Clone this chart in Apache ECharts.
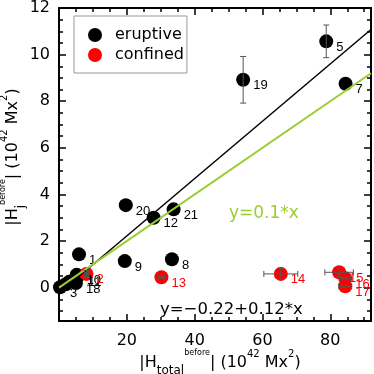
<!DOCTYPE html>
<html>
<head>
<meta charset="utf-8">
<script src="https://cdn.jsdelivr.net/npm/echarts@6/dist/echarts.min.js"></script>
<style>html,body{margin:0;padding:0;background:#fff;}#c{width:374px;height:374px;}</style>
</head>
<body>
<div id="c"></div>
<script>
// ---- data ----
const eruptiveIds = ['1','3','4','5','6','7','8','9','10','11','12','18','19','20','21'];
const eruptiveX   = [5.9, 0.3, 2.0, 78.8, 3.0, 84.5, 33.3, 19.4, 5.2, 5.6, 27.9, 5.0, 54.3, 19.7, 33.8];
const eruptiveY   = [1.43, 0.02, 0.15, 10.57, 0.25, 8.75, 1.22, 1.14, 0.55, 0.50, 3.0, 0.20, 8.92, 3.54, 3.36];
const eruptiveXErr = [0,0,0,0,0,0,0,0,0,0,0,0,0,0,0];
const eruptiveYErr = [0,0,0,0.7,0,0,0,0,0,0,0,0,1.0,0,0];
const hiddenLabels = ['4','6'];

const confinedIds = ['2','13','14','15','16','17'];
const confinedX   = [8.1, 30.2, 65.4, 82.6, 84.4, 84.4];
const confinedY   = [0.59, 0.45, 0.59, 0.66, 0.40, 0.06];
const confinedXErr = [0.6, 1.0, 5.0, 4.2, 1.5, 1.9];
const confinedYErr = [0.15, 0.05, 0.25, 0.2, 0.03, 0.03];

const fitIntercept = -0.24, fitSlope = 0.123;   // drawn fit
const refSlope = 0.1;                           // y = 0.1*x
const fitText = 'y=\u22120.22+0.12*x';
const refText = 'y=0.1*x';

const xMin = 0, xMax = 92, xInterval = 20;
const yMin = -1.43, yMax = 12;
const yMajor = [0, 2, 4, 6, 8, 10, 12];
const yMinor = [-1, -0.5, 0.5, 1, 1.5, 2.5, 3, 3.5, 4.5, 5, 5.5, 6.5, 7, 7.5, 8.5, 9, 9.5, 10.5, 11, 11.5];
const legendNames = ['eruptive', 'confined'];

// ---- build ----
const FONT = 'DejaVu Sans';
const eruptData = eruptiveIds.map((id, i) => ({
  name: id, value: [eruptiveX[i], eruptiveY[i]],
  label: hiddenLabels.includes(id) ? {show: false} : undefined
}));
const confData = confinedIds.map((id, i) => ({name: id, value: [confinedX[i], confinedY[i]]}));
const errData = [];
eruptiveIds.forEach((id, i) => { if (eruptiveXErr[i] || eruptiveYErr[i]) errData.push([eruptiveX[i], eruptiveY[i], eruptiveXErr[i], eruptiveYErr[i]]); });
confinedIds.forEach((id, i) => errData.push([confinedX[i], confinedY[i], confinedXErr[i], confinedYErr[i]]));

const fitLine = [[xMin, fitIntercept + fitSlope * xMin], [xMax, fitIntercept + fitSlope * xMax]];
const refLine = [[xMin, refSlope * xMin], [xMax, refSlope * xMax]];

const tickStyle = {color: '#000', width: 1.5};
const axisLine = {show: true, onZero: false, lineStyle: {color: '#000', width: 2}};
const labelFont = {fontSize: 16, fontFamily: FONT, color: '#000'};

function xAx(pos, showLabel) {
  return {
    type: 'value', min: xMin, max: xMax, interval: xInterval, position: pos,
    axisLine: axisLine, splitLine: {show: false},
    axisTick: {show: true, inside: true, length: 7, lineStyle: tickStyle},
    minorTick: {show: true, splitNumber: 4, length: 4, lineStyle: tickStyle},
    axisLabel: Object.assign({show: showLabel, margin: 12,
      formatter: v => (v > 0 && v % xInterval === 0) ? String(v) : ''}, labelFont)
  };
}
function yAx(pos, vals, len, showLabel, showLine) {
  return {
    type: 'value', min: yMin, max: yMax, position: pos,
    axisLine: Object.assign({}, axisLine, {show: showLine}), splitLine: {show: false},
    axisTick: {show: true, inside: true, length: len, customValues: vals, lineStyle: tickStyle},
    axisLabel: Object.assign({show: showLabel, margin: 9, customValues: vals}, labelFont)
  };
}

const rich = {
  m: {fontSize: 16, fontFamily: FONT, lineHeight: 28, verticalAlign: 'middle', fill: '#000', color: '#000'},
  sub: {fontSize: 12, fontFamily: FONT, lineHeight: 20, verticalAlign: 'bottom', fill: '#000', color: '#000'},
  sb: {fontSize: 8, fontFamily: FONT, lineHeight: 16, verticalAlign: 'top', fill: '#000', color: '#000'},
  sp: {fontSize: 10, fontFamily: FONT, lineHeight: 14, verticalAlign: 'top', fill: '#000', color: '#000'}
};

const chart = echarts.init(document.getElementById('c'), null, {renderer: 'canvas'});
chart.setOption({
  animation: false,
  backgroundColor: '#fff',
  grid: {left: 59, right: 3, top: 2, bottom: 53},
  legend: {
    data: legendNames, left: 74, top: 16, orient: 'vertical', icon: 'circle',
    itemWidth: 14, itemHeight: 14, itemGap: 4, padding: [11, 3, 10, 14],
    borderColor: '#999', borderWidth: 1, backgroundColor: '#fff',
    textStyle: {fontSize: 16, fontFamily: FONT, color: '#000', lineHeight: 14, padding: [0, 0, 0, 8]}
  },
  xAxis: [xAx('bottom', true), xAx('top', false)],
  yAxis: [
    yAx('left', yMajor, 7, true, true),
    yAx('left', yMinor, 4, false, false),
    yAx('right', yMajor, 7, false, true),
    yAx('right', yMinor, 4, false, false)
  ],
  graphic: [
    {type: 'text', x: 220, y: 363, z: 10, style: {
      text: '{m||H}{sub|total}{sb|before}{m|| (10}{sp|42}{m| Mx}{sp|2}{m|)}',
      rich: rich, align: 'center', verticalAlign: 'middle'}},
    {type: 'text', x: 13, y: 157, rotation: Math.PI / 2, z: 10, style: {
      text: '{m||H}{sub|j}{sb|before}{m|| (10}{sp|42}{m| Mx}{sp|2}{m|)}',
      rich: rich, align: 'center', verticalAlign: 'middle'}},
    {type: 'text', x: 229, y: 214, z: 10, style: {text: refText, fontSize: 17, fontFamily: FONT,
      fill: '#9ACD32', align: 'left', verticalAlign: 'middle'}},
    {type: 'text', x: 160, y: 310, z: 10, style: {text: fitText, fontSize: 16.5, fontFamily: FONT,
      fill: '#000', align: 'left', verticalAlign: 'middle'}}
  ],
  series: [
    {type: 'scatter', name: 'eruptive', data: eruptData, symbol: 'circle', symbolSize: 14, z: 2,
      itemStyle: {color: '#000', opacity: 1},
      label: {show: true, formatter: p => p.name, position: 'right', distance: 3, offset: [0, 6],
        fontSize: 13, fontFamily: 'Liberation Sans', color: '#000'}},
    {type: 'scatter', name: 'confined', data: confData, symbol: 'circle', symbolSize: 14, z: 2,
      itemStyle: {color: '#ff0000', opacity: 1},
      label: {show: true, formatter: p => p.name, position: 'right', distance: 3, offset: [0, 6],
        fontSize: 13, fontFamily: 'Liberation Sans', color: '#ff0000'}},
    {type: 'line', data: fitLine, symbol: 'none', z: 3, silent: true,
      lineStyle: {color: '#000', width: 1.5}},
    {type: 'line', data: refLine, symbol: 'none', z: 3, silent: true,
      lineStyle: {color: '#9ACD32', width: 2}},
    {type: 'custom', data: errData, z: 4, silent: true,
      renderItem: function (params, api) {
        const x = api.value(0), y = api.value(1), xe = api.value(2), ye = api.value(3);
        const cap = 3;
        const st = {stroke: '#555', lineWidth: 1};
        const ch = [];
        if (ye > 0) {
          const a = api.coord([x, y - ye]), b = api.coord([x, y + ye]);
          ch.push({type: 'line', shape: {x1: a[0], y1: a[1], x2: b[0], y2: b[1]}, style: st});
          ch.push({type: 'line', shape: {x1: a[0] - cap, y1: a[1], x2: a[0] + cap, y2: a[1]}, style: st});
          ch.push({type: 'line', shape: {x1: b[0] - cap, y1: b[1], x2: b[0] + cap, y2: b[1]}, style: st});
        }
        if (xe > 0) {
          const a = api.coord([x - xe, y]), b = api.coord([x + xe, y]);
          ch.push({type: 'line', shape: {x1: a[0], y1: a[1], x2: b[0], y2: b[1]}, style: st});
          ch.push({type: 'line', shape: {x1: a[0], y1: a[1] - cap, x2: a[0], y2: a[1] + cap}, style: st});
          ch.push({type: 'line', shape: {x1: b[0], y1: b[1] - cap, x2: b[0], y2: b[1] + cap}, style: st});
        }
        return {type: 'group', children: ch};
      }}
  ]
});
</script>
</body>
</html>
